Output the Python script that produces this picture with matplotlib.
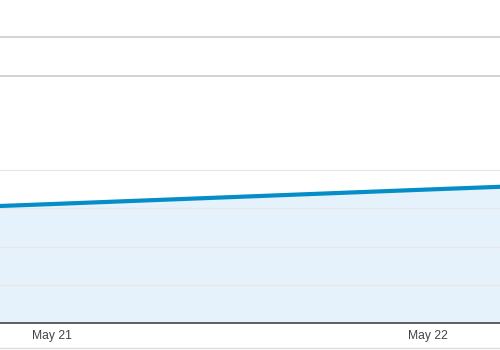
import matplotlib
matplotlib.use("Agg")
import matplotlib.pyplot as plt
from matplotlib.lines import Line2D
import numpy as np

# daily values (cropped view of a sessions-style area chart)
days = np.array([20, 21, 22, 23])
values = [274, 311, 349, 386]
tick_days = [21, 22]
tick_labels = ["May 21", "May 22"]
grid_vals = [100, 200, 300, 400]

plt.rcParams['font.family'] = ['Liberation Sans', 'DejaVu Sans']

fig = plt.figure(figsize=(5, 3.5), dpi=100)
ax = fig.add_axes([0, 27 / 350, 1, 323 / 350])

ax.fill_between(days, values, 0, color="#e5f1fb", lw=0, zorder=1)
ax.plot(days, values, color="#058dc7", lw=3, solid_capstyle="butt", zorder=3)

for g in grid_vals:
    ax.axhline(g, color="#e6e6e6", lw=0.8, zorder=2)

# day from pixel mapping: May 21 at x=52, May 22 at x=428
px_per_day = 376
ax.set_xlim(21 - 52 / px_per_day, 21 + (500 - 52) / px_per_day)
ax.set_ylim(0, 323 / 38.25 * 100)

ax.set_xticks(tick_days)
ax.set_xticklabels(tick_labels, fontsize=8.7, color="#444444")
ax.tick_params(axis="x", length=0, pad=5)
ax.set_yticks([])

for s in ["top", "left", "right"]:
    ax.spines[s].set_visible(False)
ax.spines["bottom"].set_color("#444444")
ax.spines["bottom"].set_linewidth(1.2)
ax.spines["bottom"].set_zorder(4)

# page separators above the chart
for yp, c in [(36.5, "#cccccc"), (76, "#cccccc")]:
    fig.add_artist(Line2D([0, 1], [1 - yp / 350, 1 - yp / 350], color=c, lw=1.2))
fig.add_artist(Line2D([0, 1], [1 - 347.5 / 350] * 2, color="#dddddd", lw=1))

fig.savefig("out.png", dpi=100)
